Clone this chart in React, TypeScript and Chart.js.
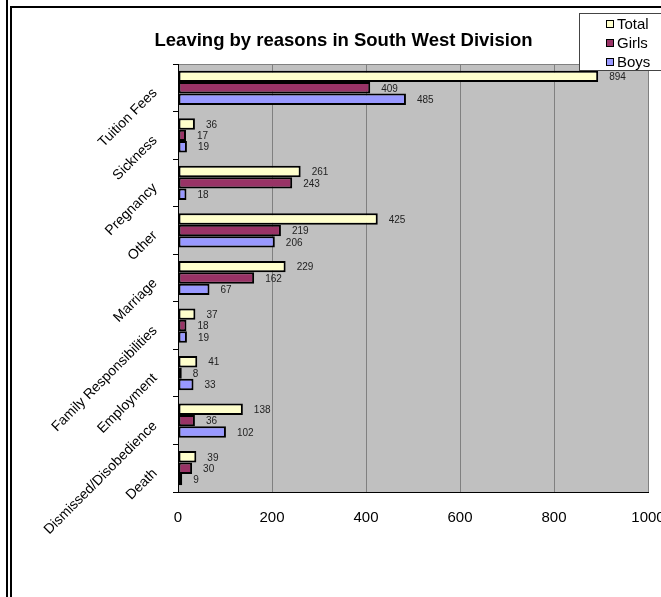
import React, { useEffect, useRef } from "react";
import { Chart, registerables } from "chart.js";

Chart.register(...registerables);

const categories = [
  "Tuition Fees",
  "Sickness",
  "Pregnancy",
  "Other",
  "Marriage",
  "Family Responsibilities",
  "Employment",
  "Dismissed/Disobedience",
  "Death",
];
const totalValues = [894, 36, 261, 425, 229, 37, 41, 138, 39];
const girlsValues = [409, 17, 243, 219, 162, 18, 8, 36, 30];
const boysValues = [485, 19, 18, 206, 67, 19, 33, 102, 9];
const seriesNames = ["Total", "Girls", "Boys"];
const seriesColors = ["#FFFFCC", "#993366", "#9999FF"];
const xTickMin = 0;
const xTickMax = 1000;
const xTickStep = 200;
const chartTitle = "Leaving by reasons in South West Division";

const FONT = "'Liberation Sans', Arial, sans-serif";

const backgroundPlugin = {
  id: "bgFrame",
  beforeDraw(chart: any) {
    const { ctx, chartArea } = chart;
    ctx.save();
    ctx.fillStyle = "#FFFFFF";
    ctx.fillRect(0, 0, chart.width, chart.height);
    // outer frame lines
    ctx.fillStyle = "#000000";
    ctx.fillRect(6, 0, 2, chart.height);
    ctx.fillRect(10, 6, 2, chart.height - 6);
    ctx.fillRect(10, 6, chart.width - 10, 2);
    // plot area
    ctx.fillStyle = "#C0C0C0";
    ctx.fillRect(
      chartArea.left,
      chartArea.top,
      chartArea.right - chartArea.left,
      chartArea.bottom - chartArea.top
    );
    ctx.strokeStyle = "#808080";
    ctx.lineWidth = 1;
    ctx.beginPath();
    ctx.moveTo(chartArea.left, chartArea.top + 0.5);
    ctx.lineTo(chartArea.right, chartArea.top + 0.5);
    ctx.stroke();
    ctx.restore();
  },
};

const valueLabelPlugin = {
  id: "valueLabels",
  afterDatasetsDraw(chart: any) {
    const ctx = chart.ctx;
    ctx.save();
    ctx.font = `10px ${FONT}`;
    ctx.fillStyle = "#222222";
    ctx.textAlign = "left";
    ctx.textBaseline = "middle";
    chart.data.datasets.forEach((ds: any, i: number) => {
      const meta = chart.getDatasetMeta(i);
      meta.data.forEach((el: any, j: number) => {
        ctx.fillText(String(ds.data[j]), el.x + 11, el.y + 1);
      });
    });
    ctx.restore();
  },
};

const titleLegendPlugin = {
  id: "titleLegend",
  afterDraw(chart: any) {
    const ctx = chart.ctx;
    ctx.save();
    // title
    ctx.font = `bold 18.5px ${FONT}`;
    ctx.fillStyle = "#000000";
    ctx.textAlign = "center";
    ctx.textBaseline = "alphabetic";
    ctx.fillText(chartTitle, 343.5, 46);
    // legend
    ctx.fillStyle = "#FFFFFF";
    ctx.fillRect(579.5, 13.5, 100, 57);
    ctx.strokeStyle = "#444444";
    ctx.lineWidth = 1;
    ctx.strokeRect(579.5, 13.5, 100, 57);
    ctx.font = `15px ${FONT}`;
    ctx.textAlign = "left";
    ctx.textBaseline = "middle";
    seriesNames.forEach((name, i) => {
      const cy = 24 + i * 19;
      ctx.fillStyle = seriesColors[i];
      ctx.fillRect(606.5, cy - 3.5, 7, 7);
      ctx.strokeStyle = "#000000";
      ctx.strokeRect(606.5, cy - 3.5, 7, 7);
      ctx.fillStyle = "#000000";
      ctx.fillText(name, 617, cy + 0.5);
    });
    ctx.restore();
  },
};

export default function App() {
  const canvasRef = useRef<HTMLCanvasElement | null>(null);

  useEffect(() => {
    if (!canvasRef.current) return;
    const seriesData = [totalValues, girlsValues, boysValues];
    const chart = new Chart(canvasRef.current, {
      type: "bar",
      data: {
        labels: categories,
        datasets: seriesNames.map((name, i) => ({
          label: name,
          data: seriesData[i],
          backgroundColor: seriesColors[i],
          borderColor: "#000000",
          borderWidth: 2,
          borderSkipped: false,
          categoryPercentage: 0.72,
          barPercentage: 1,
        })),
      },
      options: {
        indexAxis: "y",
        responsive: false,
        animation: false,
        layout: { padding: { top: 64, right: 13, left: 0, bottom: 0 } },
        plugins: {
          legend: { display: false },
          title: { display: false },
          tooltip: { enabled: false },
        },
        scales: {
          x: {
            min: xTickMin,
            max: xTickMax,
            ticks: {
              stepSize: xTickStep,
              color: "#000000",
              font: { family: FONT, size: 15 },
              padding: 17,
              callback: (v: any) => String(v),
            },
            grid: { color: "#808080", drawTicks: false, lineWidth: 1 },
            border: { display: true, color: "#000000", width: 1 },
            afterFit: (s: any) => {
              s.height = 105;
              s.paddingLeft = 0;
              s.paddingRight = 0;
            },
          },
          y: {
            ticks: {
              color: "#000000",
              font: { family: FONT, size: 14 },
              minRotation: 45,
              maxRotation: 45,
              padding: 18,
              labelOffset: 3,
            },
            grid: {
              offset: true,
              drawOnChartArea: false,
              drawTicks: true,
              tickLength: 5,
              color: "#000000",
            },
            border: { display: true, color: "#000000", width: 1 },
            afterFit: (s: any) => {
              s.width = 178;
              s.paddingTop = 0;
              s.paddingBottom = 0;
            },
          },
        },
      } as any,
      plugins: [backgroundPlugin, valueLabelPlugin, titleLegendPlugin],
    });
    return () => chart.destroy();
  }, []);

  return (
    <div
      style={{
        position: "fixed",
        left: 0,
        top: 0,
        width: 661,
        height: 597,
        background: "#fff",
      }}
    >
      <canvas
        ref={canvasRef}
        width={661}
        height={597}
        style={{ display: "block", width: 661, height: 597 }}
      />
    </div>
  );
}
